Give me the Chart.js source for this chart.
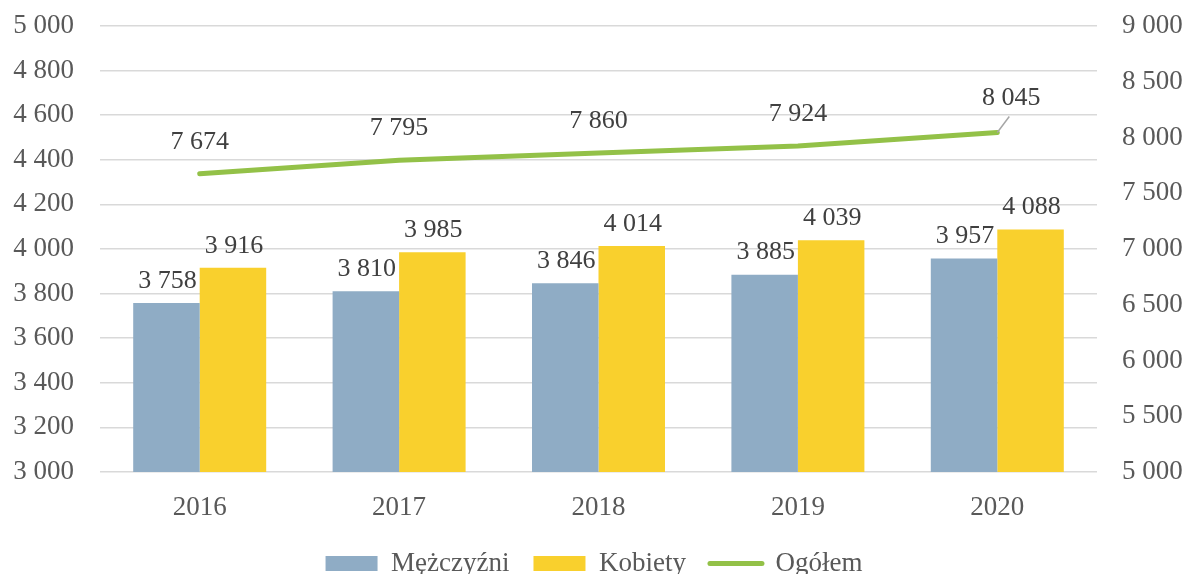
<!DOCTYPE html>
<html>
<head>
<meta charset="utf-8">
<script src="https://cdn.jsdelivr.net/npm/chart.js@4/dist/chart.umd.min.js"></script>
<style>
  html, body { margin: 0; padding: 0; background: #fff; overflow: hidden; }
  #wrap { position: relative; width: 1188px; height: 587px; }
</style>
</head>
<body>
<div id="wrap"><canvas id="chart"></canvas></div>
<script>
// === Data ===
const years = ["2016", "2017", "2018", "2019", "2020"];
const men = [3758, 3810, 3846, 3885, 3957];
const women = [3916, 3985, 4014, 4039, 4088];
const total = [7674, 7795, 7860, 7924, 8045];

const seriesNames = ["Mężczyźni", "Kobiety", "Ogółem"];
const colors = ["#8FACC5", "#F9D02D", "#93C148"];

const FONT = "'Liberation Serif', 'Times New Roman', serif";

// "3 758" style numbers
function fmt(v) {
  return String(v).replace(/\B(?=(\d{3})+(?!\d))/g, " ");
}

// === Value labels (no datalabels plugin available) ===
const valueLabels = {
  id: "valueLabels",
  afterDatasetsDraw(chart) {
    const ctx = chart.ctx;
    ctx.save();
    ctx.font = "26px " + FONT;
    ctx.fillStyle = "#404040";
    ctx.textAlign = "center";
    ctx.textBaseline = "middle";
    chart.data.datasets.forEach((ds, i) => {
      const meta = chart.getDatasetMeta(i);
      meta.data.forEach((el, j) => {
        const txt = fmt(ds.data[j]);
        if (ds.type === "line") {
          if (j === meta.data.length - 1) {
            // last label sits up-right with a small leader line
            ctx.strokeStyle = "#A6A6A6";
            ctx.lineWidth = 1.5;
            ctx.beginPath();
            ctx.moveTo(el.x, el.y);
            ctx.lineTo(el.x + 12, el.y - 16);
            ctx.stroke();
            ctx.fillText(txt, el.x + 14, el.y - 34);
          } else {
            ctx.fillText(txt, el.x, el.y - 32);
          }
        } else {
          ctx.fillText(txt, el.x + 1, el.y - 22);
        }
      });
    });
    ctx.restore();
  }
};

// keep the plot area where the reference has it
function noPad(s) {
  s.paddingTop = 0;
  s.paddingBottom = 0;
}

const ctx = document.getElementById("chart").getContext("2d");

new Chart(ctx, {
  data: {
    labels: years,
    datasets: [
      {
        type: "bar",
        label: seriesNames[0],
        data: men,
        backgroundColor: colors[0],
        yAxisID: "y",
        barPercentage: 1,
        categoryPercentage: 0.667,
        order: 2
      },
      {
        type: "bar",
        label: seriesNames[1],
        data: women,
        backgroundColor: colors[1],
        yAxisID: "y",
        barPercentage: 1,
        categoryPercentage: 0.667,
        order: 2
      },
      {
        type: "line",
        label: seriesNames[2],
        data: total,
        borderColor: colors[2],
        backgroundColor: colors[2],
        borderWidth: 5,
        borderCapStyle: "round",
        pointRadius: 0,
        tension: 0,
        yAxisID: "y2",
        order: 1
      }
    ]
  },
  options: {
    responsive: true,
    maintainAspectRatio: false,
    animation: false,
    layout: { padding: { top: 26, left: 0, right: 0, bottom: 0 } },
    scales: {
      x: {
        grid: { display: false, drawTicks: false },
        border: { display: false },
        ticks: { color: "#595959", font: { family: FONT, size: 27 }, padding: 20 },
        afterFit: s => { s.height = 54; }
      },
      y: {
        position: "left",
        min: 3000,
        max: 5000,
        grid: { color: "#D9D9D9", lineWidth: 1.5, drawTicks: false },
        border: { display: false },
        ticks: {
          stepSize: 200,
          color: "#595959",
          font: { family: FONT, size: 27 },
          padding: 26,
          callback: v => fmt(v)
        },
        afterFit: s => { s.width = 100; noPad(s); }
      },
      y2: {
        position: "right",
        min: 5000,
        max: 9000,
        grid: { display: false, drawTicks: false },
        border: { display: false },
        ticks: {
          stepSize: 500,
          color: "#595959",
          font: { family: FONT, size: 27 },
          padding: 25,
          callback: v => fmt(v)
        },
        afterFit: s => { s.width = 91; noPad(s); }
      }
    },
    plugins: {
      legend: {
        position: "bottom",
        labels: {
          color: "#595959",
          font: { family: FONT, size: 27 },
          usePointStyle: true,
          pointStyleWidth: 52,
          boxHeight: 15,
          padding: 24,
          sort: (a, b) => a.datasetIndex - b.datasetIndex,
          generateLabels(chart) {
            const items = Chart.defaults.plugins.legend.labels.generateLabels(chart);
            items.forEach(it => {
              const ds = chart.data.datasets[it.datasetIndex];
              if (ds.type === "line") {
                it.pointStyle = "line";
                it.lineWidth = 5;
                it.lineCap = "round";
              } else {
                it.pointStyle = "rect";
                it.lineWidth = 0;
              }
            });
            return items;
          }
        }
      },
      tooltip: { enabled: false }
    }
  },
  plugins: [valueLabels]
});
</script>
</body>
</html>
